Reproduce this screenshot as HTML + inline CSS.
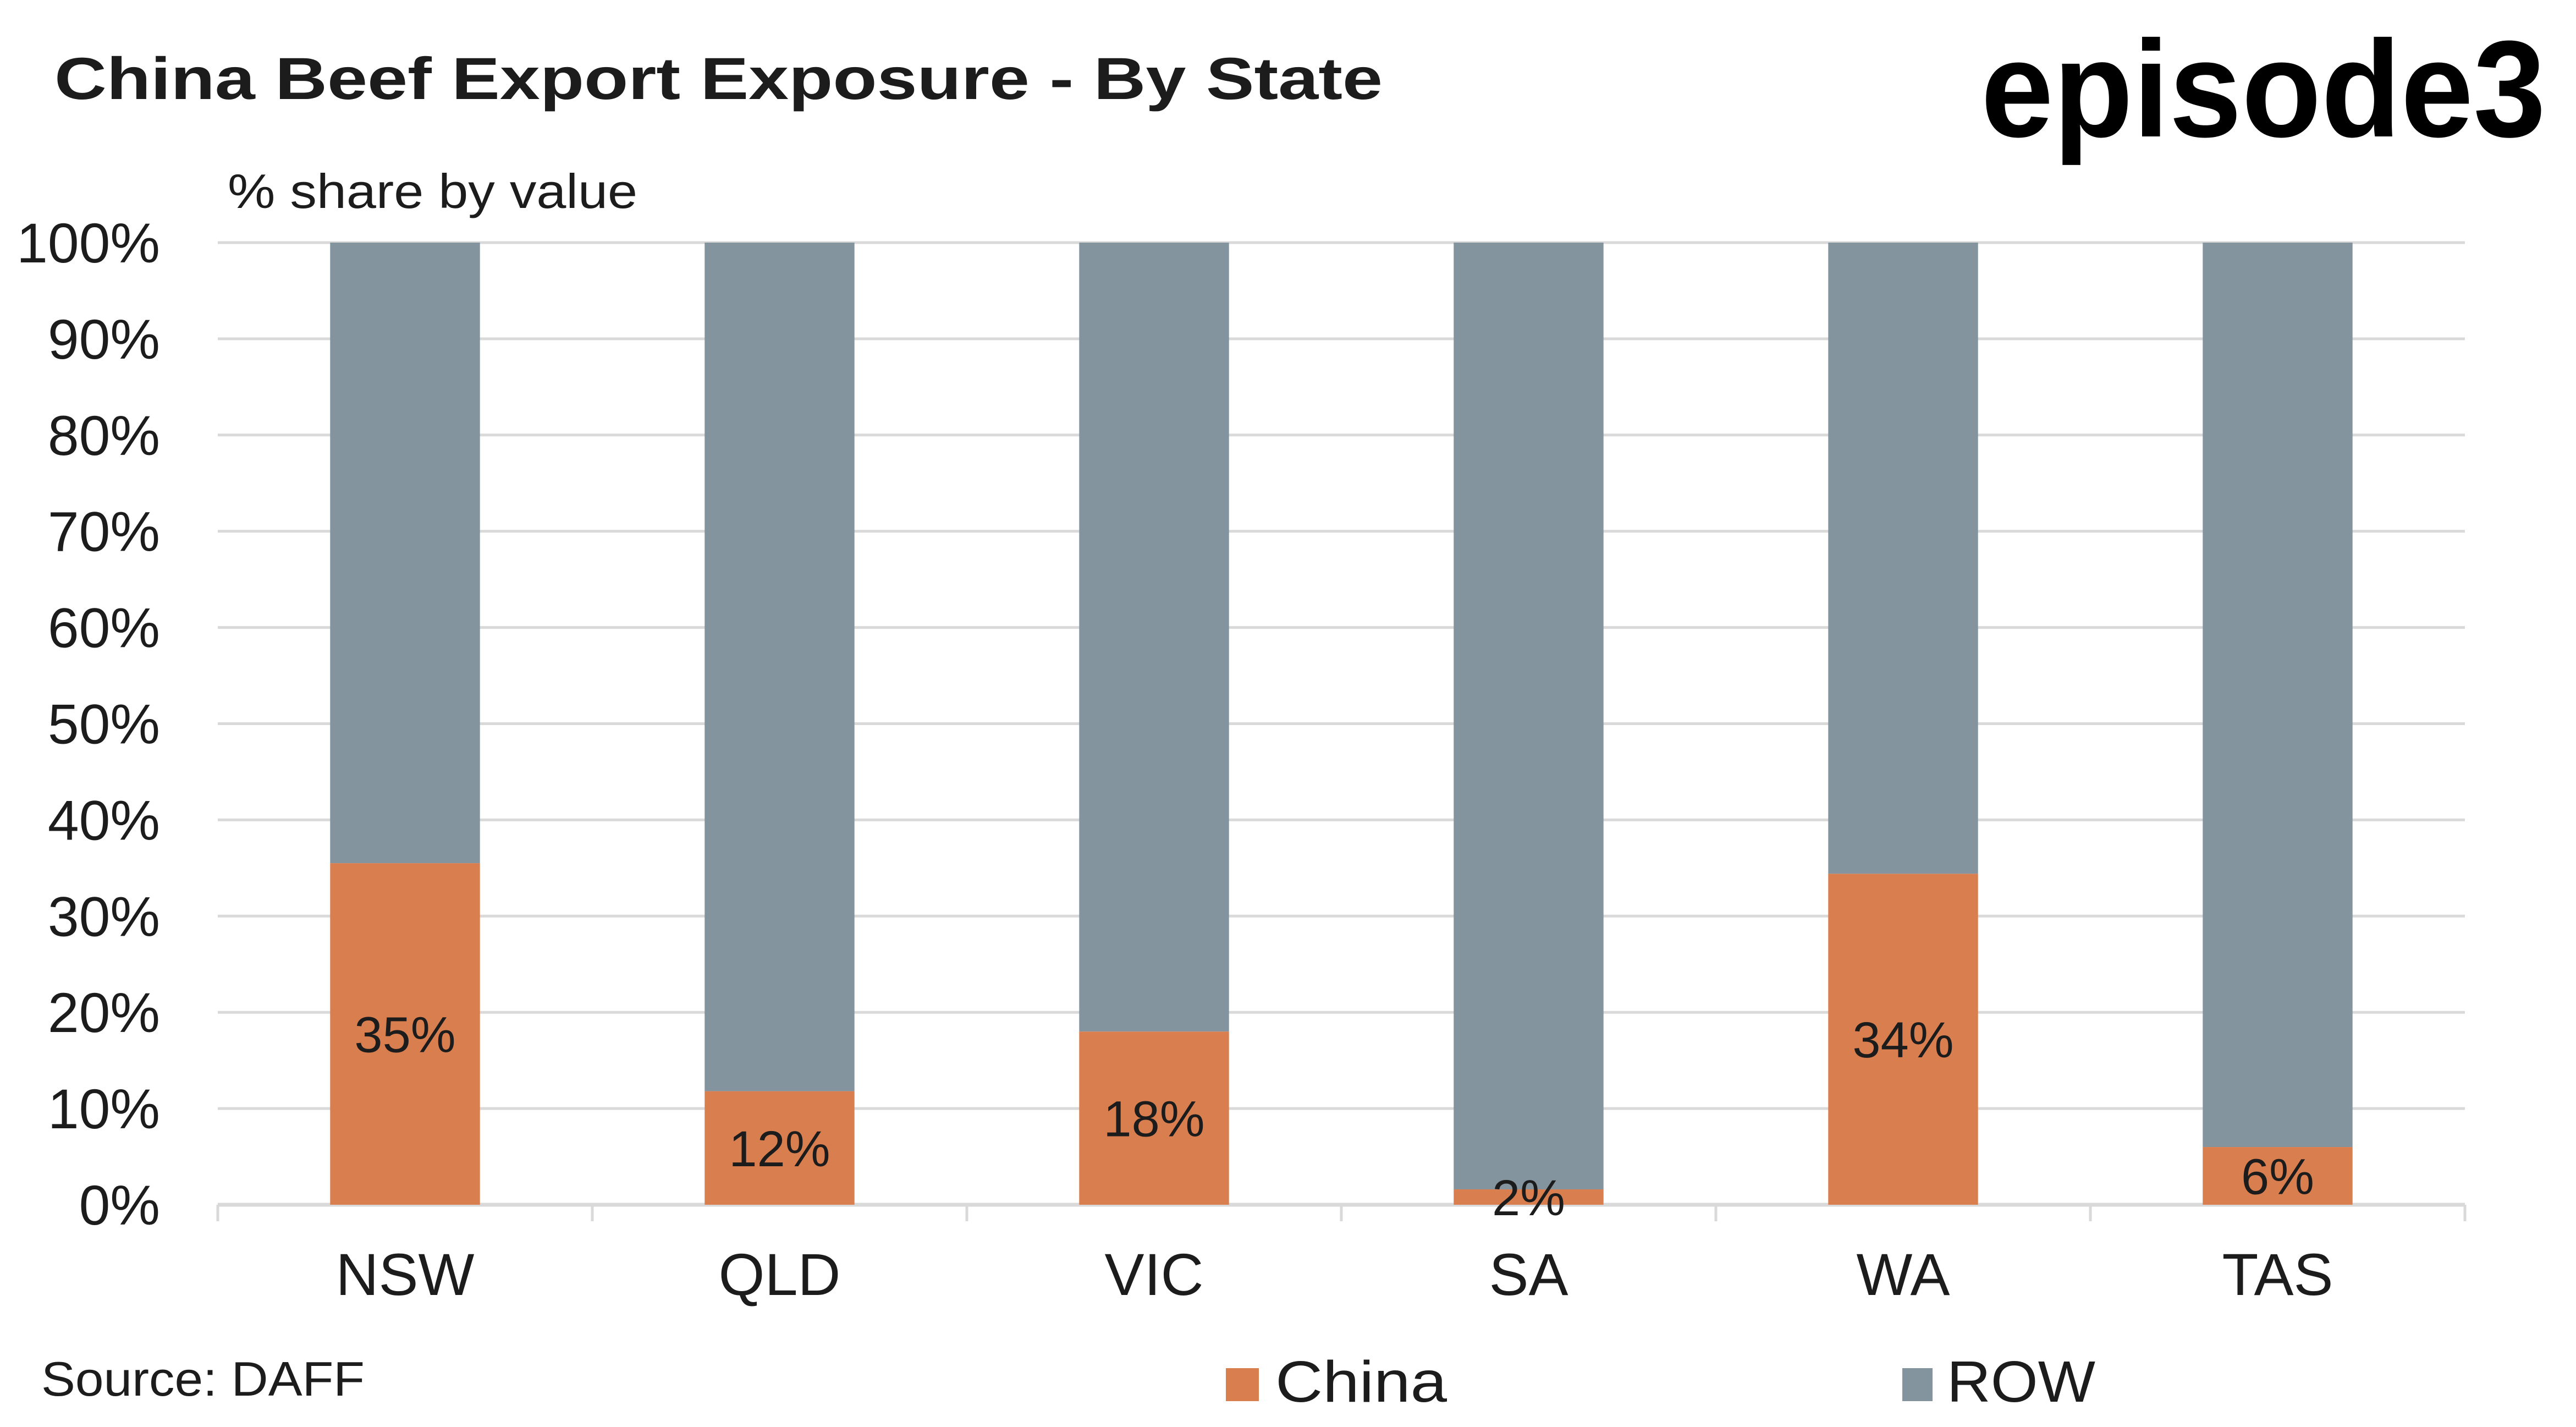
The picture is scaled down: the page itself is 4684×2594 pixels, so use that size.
<!DOCTYPE html>
<html><head><meta charset="utf-8"><style>
html,body{margin:0;padding:0;background:#fff;}
svg{display:block;font-family:"Liberation Sans",sans-serif;}
</style></head><body>
<svg id="chart" width="4684" height="2594" viewBox="0 0 4684 2594" xmlns="http://www.w3.org/2000/svg">
<rect width="4684" height="2594" fill="#fff"/>
<text x="99" y="180" font-size="108" font-weight="bold" fill="#1c1c1c" textLength="2415" lengthAdjust="spacingAndGlyphs">China Beef Export Exposure - By State</text>
<text x="3602" y="248" font-size="250" font-weight="bold" fill="#000" textLength="1027" lengthAdjust="spacingAndGlyphs">episode3</text>
<text x="414" y="378" font-size="88" fill="#1c1c1c" textLength="745" lengthAdjust="spacingAndGlyphs">% share by value</text>
<g id="grid"></g><g id="bars"></g><g id="labels"></g>
<text x="75" y="2537" font-size="88" fill="#1c1c1c" textLength="588" lengthAdjust="spacingAndGlyphs">Source: DAFF</text>
<rect x="2229" y="2487" width="60" height="60" fill="#d97e4f"/>
<text x="2319" y="2548" font-size="106" fill="#1c1c1c" textLength="312" lengthAdjust="spacingAndGlyphs">China</text>
<rect x="3459" y="2487" width="55" height="60" fill="#83949f"/>
<text x="3540" y="2548" font-size="106" fill="#1c1c1c" textLength="270" lengthAdjust="spacingAndGlyphs">ROW</text>
</svg>
<script>
const categories = ["NSW","QLD","VIC","SA","WA","TAS"];
const chinaValues = [35.5, 11.8, 18, 1.6, 34.4, 6];
const rowValues = [64.5, 88.2, 82, 98.4, 65.6, 94];
const chinaLabels = ["35%","12%","18%","2%","34%","6%"];
const yTicks = [0,10,20,30,40,50,60,70,80,90,100];

const NS="http://www.w3.org/2000/svg";
const X0=396, X1=4482, Y0=2190, Y100=441;
const slot=(X1-X0)/categories.length;
const xc=i=>X0+slot*(i+0.5);
const y=v=>Y0-(Y0-Y100)*v/100;
const bw=slot*0.4;
function mk(tag,attrs,parent){const e=document.createElementNS(NS,tag);for(const k in attrs)e.setAttribute(k,attrs[k]);parent.appendChild(e);return e;}
const grid=document.getElementById('grid'),bars=document.getElementById('bars'),labels=document.getElementById('labels');
yTicks.forEach(t=>{
  const l=mk('line',{x1:X0,x2:X1,y1:y(t),y2:y(t),stroke:'#d9d9d9','stroke-width':t===0?7:5},grid);
  
  
  const tx=mk('text',{x:291,y:y(t)+36,'font-size':102,fill:'#1c1c1c','text-anchor':'end'},grid);
  tx.textContent=t+'%';
  
  
});
for(let i=0;i<=categories.length;i++){
  const tk=mk('line',{x1:X0+slot*i,x2:X0+slot*i,y1:Y0,y2:Y0+30,stroke:'#d9d9d9','stroke-width':5},grid);
  
  
}
categories.forEach((c,i)=>{
  const x=xc(i)-bw/2;
  const r=mk('rect',{x:x,y:y(chinaValues[i]+rowValues[i]),width:bw,height:y(chinaValues[i])-y(chinaValues[i]+rowValues[i]),fill:'#83949f'},bars);
  
  
  const b=mk('rect',{x:x,y:y(chinaValues[i]),width:bw,height:Y0-y(chinaValues[i]),fill:'#d97e4f'},bars);
  
  
  const lt=mk('text',{x:xc(i),y:y(chinaValues[i]/2)+33,'font-size':92,fill:'#1c1c1c','text-anchor':'middle'},labels);
  lt.textContent=chinaLabels[i];
  
  
  const ct=mk('text',{x:xc(i),y:2354,'font-size':108,fill:'#1c1c1c','text-anchor':'middle'},labels);
  ct.textContent=c;
  
  
});
</script>
</body></html>
